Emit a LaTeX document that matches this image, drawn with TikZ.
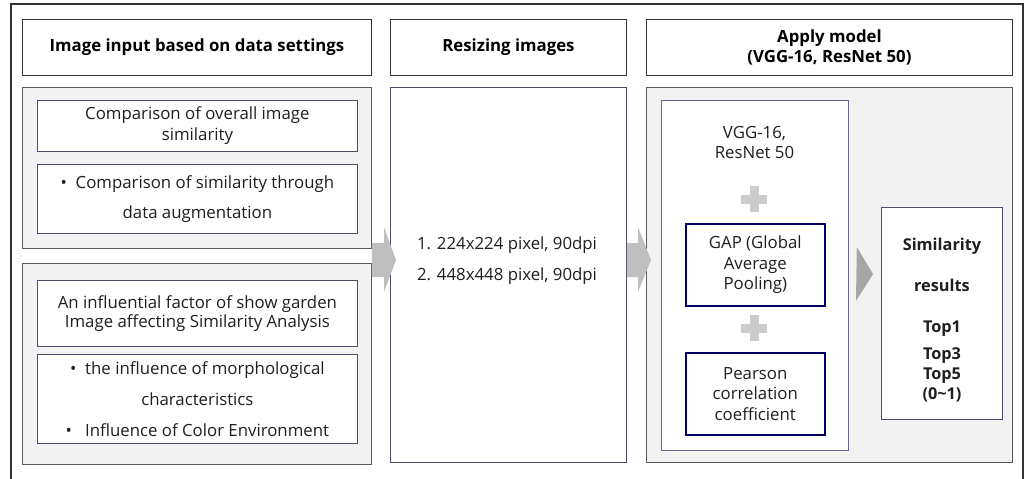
\documentclass[tikz,border=0pt]{standalone}
\usepackage{fontspec}
\setmainfont{Open Sans}
\begin{document}
\begin{tikzpicture}[x=1pt,y=-1pt,
  hdr/.style={draw=black!80, line width=0.9pt, fill=white, anchor=north west, inner sep=0pt, align=center, font=\fontsize{16.8}{20.5}\selectfont\bfseries},
  panel/.style={draw=black!65, line width=0.9pt, fill=black!5, anchor=north west, inner sep=0pt},
  ibox/.style={draw=black!55!blue!40!black!70, line width=0.8pt, fill=white, anchor=north west, inner sep=0pt, align=center, text=black!88, font=\fontsize{16.8}{21}\selectfont},
  nbox/.style={draw=blue!40!black, line width=1.6pt, fill=white, anchor=north west, inner sep=0pt, align=center, text=black!88, font=\fontsize{16.8}{20.5}\selectfont},
  txt/.style={inner sep=0pt, align=center, text=black!88, font=\fontsize{16.8}{20}\selectfont},
  barrow/.style={fill=black!25, draw=none},
  plusc/.style={fill=black!20, draw=none}
]
\useasboundingbox (0,0) rectangle (1031,479);
\draw[line width=1.2pt, black!80] (11,479) -- (11,4) -- (1023,4) -- (1023,479);
% headers
\node[hdr, minimum width=349, minimum height=56] (h1) at (22,19) {Image input based on data settings};
\node[hdr, minimum width=236, minimum height=56] (h2) at (390,19) {Resizing images};
\node[hdr, minimum width=366, minimum height=56] (h3) at (646,19) {Apply model\\(VGG-16, ResNet 50)};
% left panels
\node[panel, minimum width=349, minimum height=161] (p1) at (22,87) {};
\node[panel, minimum width=349, minimum height=201] (p2) at (22,263) {};
\node[ibox, minimum width=320, minimum height=51] (a) at (37,100) {Comparison of overall image\\similarity};
\node[ibox, minimum width=320, minimum height=69, font=\fontsize{16.8}{30}\selectfont] (b) at (37,164) {\textbullet\ \ Comparison of similarity through\\data augmentation};
\node[ibox, minimum width=320, minimum height=66, font=\fontsize{16.8}{19.5}\selectfont] (c) at (37,280) {An influential factor of show garden\\Image affecting Similarity Analysis};
\node[ibox, minimum width=320, minimum height=89, font=\fontsize{16.8}{31}\selectfont] (d) at (37,354) {\textbullet\ \ the influence of morphological\\characteristics\\\textbullet\ \ \ Influence of Color Environment};
% middle
\node[ibox, minimum width=236, minimum height=375] (m) at (390,87) {};
\node[txt, font=\fontsize{16.8}{31}\selectfont, align=left] (mt) at (507,260.5) {1. 224x224 pixel, 90dpi\\2. 448x448 pixel, 90dpi};
% right
\node[panel, minimum width=366, minimum height=375] (p3) at (646,87) {};
\node[ibox, draw=blue!30!black!60, minimum width=187, minimum height=350] (v) at (661,100) {};
\node[txt] (vt) at (754.5,142) {VGG-16,\\ResNet 50};
\node[nbox, minimum width=139, minimum height=82] (g) at (685,223) {GAP (Global\\Average\\Pooling)};
\node[nbox, minimum width=139, minimum height=82] (pc) at (685,352) {Pearson\\correlation\\coefficient};
\node[ibox, minimum width=121, minimum height=212] (s) at (881,207) {};
\node[txt, font=\fontsize{16.3}{20}\selectfont\bfseries] (st) at (942,320) {Similarity\\[21pt]results\\[21pt]Top1\\[7pt]Top3\\Top5\\(0\textasciitilde1)};
% plus signs
\fill[plusc] (749.5,186) rectangle (758.5,212);
\fill[plusc] (741,194.5) rectangle (767,203.5);
\fill[plusc] (749.5,315) rectangle (758.5,341);
\fill[plusc] (741,323.5) rectangle (767,332.5);
% block arrows
\fill[barrow] (p1.east |- 0,243) -- (384,243) -- (384,227) -- (396,260) -- (384,292) -- (384,277) -- (p1.east |- 0,277) -- cycle;
\fill[barrow] (m.east |- 0,243) -- (638,243) -- (638,227) -- (651,260) -- (638,292) -- (638,277) -- (m.east |- 0,277) -- cycle;
\fill[black!35] (v.east |- 856,247) ++(8,0) -- (873,274) -- (856,301) -- cycle;
\end{tikzpicture}
\end{document}
